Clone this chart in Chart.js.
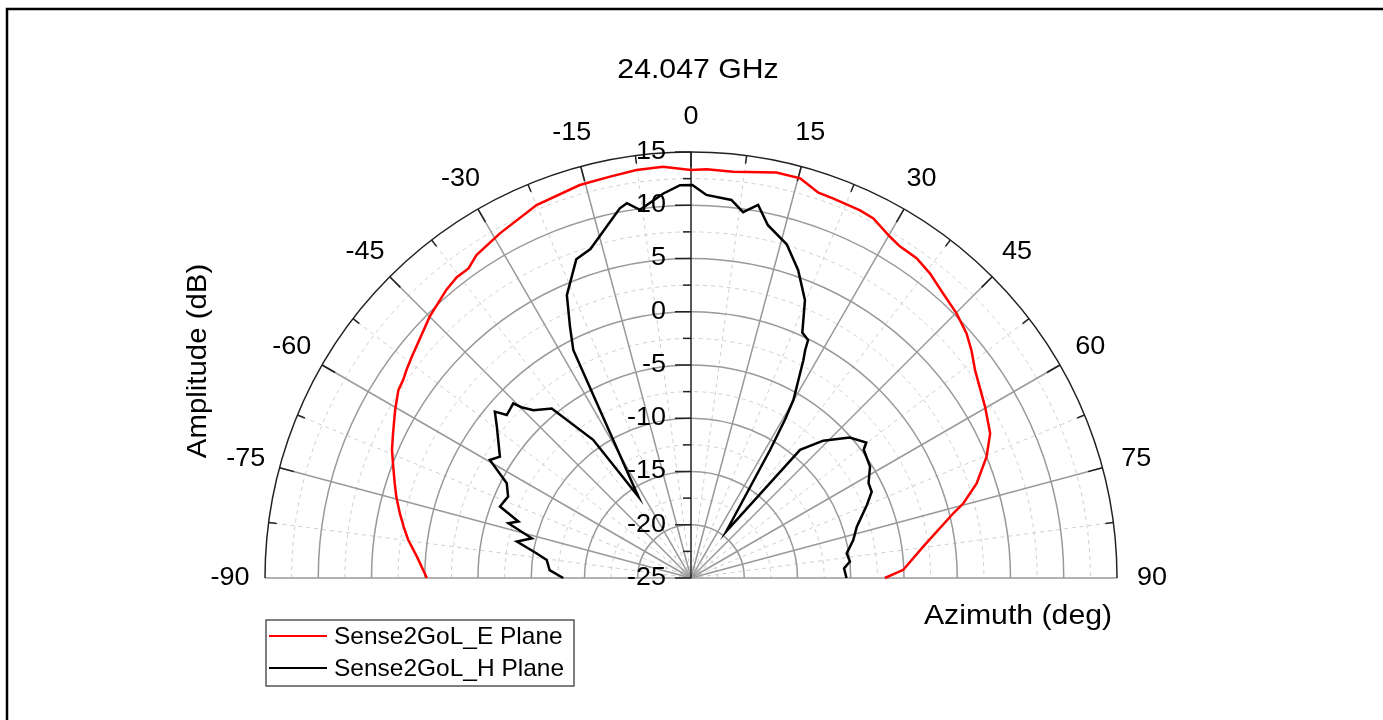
<!DOCTYPE html>
<html>
<head>
<meta charset="utf-8">
<title>24.047 GHz</title>
<script src="https://cdn.jsdelivr.net/npm/chart.js@4.4.1/dist/chart.umd.min.js"></script>
<style>
    html, body { margin: 0; padding: 0; background: #fff; }
    canvas { display: block; }
</style>
</head>
<body>
<canvas id="polarChart" width="1383" height="720"></canvas>
<script>
const titleText = '24.047 GHz';
const radialTitle = 'Amplitude (dB)';
const angleTitle = 'Azimuth (deg)';
const radialTicks = [-25, -20, -15, -10, -5, 0, 5, 10, 15];
const angleTicks = [-90, -75, -60, -45, -30, -15, 0, 15, 30, 45, 60, 75, 90];
const rMin = -25;
const rMax = 15;

// E plane (red)
const eAngles = [-90, -85.6, -82.3, -79.9, -77.5, -74.6, -72.3, -69.5, -66.8, -64.1,
    -60.4, -57.3, -55.5, -53.8, -51.6, -45, -40.3, -37.9, -35.7, -33.6,
    -29, -22.5, -15.8, -11.4, -7.6, -3.9, 0, 2.2, 5.9, 11.9,
    15.3, 18.3, 20.5, 24.7, 26.9, 30.2, 32.2, 35.2, 38.1, 41.5,
    45.1, 48.4, 51, 53.8, 59.8, 64.2, 67.7, 71.7, 74.7, 76.1,
    82.3, 87.8, 90];
const eValues = [-0.2, 0.8, 1.8, 2.4, 3.0, 3.7, 4.2, 4.85, 5.55, 6.1,
    6.95, 7.65, 7.8, 8.1, 8.45, 9.7, 10.5, 10.8, 10.8, 11.4,
    12.0, 12.9, 13.35, 13.45, 13.65, 13.7, 13.3, 13.4, 13.35, 13.9,
    13.9, 13.1, 13.05, 13.0, 12.85, 12.1, 11.8, 11.75, 11.35, 10.7,
    10.2, 9.6, 8.9, 8.05, 6.95, 6.2, 5.0, 3.25, 1.5, 0.4,
    -3.0, -5.05, -6.8];

// H plane (black)
const hAngles = [-90, -86.8, -82.9, -80.9, -78.2, -76.0, -73.3, -71.9, -69.5, -66.0,
    -62.8, -59.6, -57.6, -52.1, -49.7, -48.5, -45.5, -44.8, -43.2, -39.4,
    -35.3, -32.9, -27.3, -25.7, -23.7, -19.8, -17.0, -10.9, -9.7, -7.9,
    -4.1, -1.6, 0.2, 2.3, 6.1, 8.1, 10.2, 12.3, 16.0, 19.2,
    22.3, 24.4, 26.2, 26.6, 27.3, 29.9, 30.7, 31.7, 37.1, 40.4,
    43.9, 48.5, 52.3, 53.4, 58.1, 61.9, 64.5, 67.4, 72.8, 76.8,
    81.0, 84.1, 86.4, 90];
const hValues = [-13.0, -11.7, -11.35, -10.3, -8.3, -9.6, -7.1, -7.95, -5.85, -6.2,
    -5.55, -3.1, -3.75, -1.9, -0.85, -1.9, -1.6, -2.4, -3.4, -4.4,
    -9.1, -15.9, -0.9, 1.2, 4.0, 6.8, 7.3, 10.35, 10.7, 9.9,
    11.2, 11.9, 11.9, 11.0, 10.7, 9.7, 10.6, 8.9, 7.6, 5.6,
    3.2, 0.3, -0.1, -1.05, -2.0, -5.7, -7.7, -10.9, -19.5, -9.2,
    -7.1, -5.1, -4.2, -4.8, -5.2, -6.1, -6.2, -7.1, -8.7, -9.35,
    -10.2, -10.0, -10.6, -10.4];

const FONT = '"Liberation Sans", Arial, sans-serif';

// azimuth 0 points up, positive to the right
const toXY = (angles, values) => angles.map((a, i) => {
    const r = values[i] - rMin;
    const t = a * Math.PI / 180;
    return { x: r * Math.sin(t), y: r * Math.cos(t) };
});

const drawText = (ctx, text, x, y, size, align, stretch) => {
    ctx.save();
    ctx.translate(x, y);
    ctx.scale(stretch, 1);
    ctx.font = `${size}px ${FONT}`;
    ctx.fillStyle = '#000';
    ctx.textAlign = align;
    ctx.textBaseline = 'middle';
    ctx.fillText(text, 0, 0);
    ctx.restore();
};

const geometry = (chart) => {
    const { x, y } = chart.scales;
    const cx = x.getPixelForValue(0);
    const cy = y.getPixelForValue(0);
    const unit = x.getPixelForValue(1) - cx;
    return { cx, cy, unit, R: (rMax - rMin) * unit };
};

const spoke = (ctx, cx, cy, deg, r0, r1) => {
    const t = deg * Math.PI / 180;
    ctx.beginPath();
    ctx.moveTo(cx + r0 * Math.sin(t), cy - r0 * Math.cos(t));
    ctx.lineTo(cx + r1 * Math.sin(t), cy - r1 * Math.cos(t));
    ctx.stroke();
};

const polarGrid = {
    id: 'polarGrid',
    beforeDatasetsDraw(chart) {
        const ctx = chart.ctx;
        const { cx, cy, unit, R } = geometry(chart);
        ctx.save();

        // minor dashed rings and spokes
        ctx.strokeStyle = '#cfcfcf';
        ctx.lineWidth = 1;
        ctx.setLineDash([4, 4]);
        for (let v = rMin + 2.5; v < rMax; v += 5) {
            ctx.beginPath();
            ctx.arc(cx, cy, (v - rMin) * unit, Math.PI, 2 * Math.PI);
            ctx.stroke();
        }
        for (let a = -82.5; a < 90; a += 15) {
            spoke(ctx, cx, cy, a, 0, R);
        }
        ctx.setLineDash([]);

        // major rings and spokes
        ctx.strokeStyle = '#999';
        ctx.lineWidth = 1.5;
        radialTicks.slice(1, -1).forEach(v => {
            ctx.beginPath();
            ctx.arc(cx, cy, (v - rMin) * unit, Math.PI, 2 * Math.PI);
            ctx.stroke();
        });
        angleTicks.filter(a => a !== 0).forEach(a => spoke(ctx, cx, cy, a, 0, R));

        // outer ring
        ctx.strokeStyle = '#222';
        ctx.lineWidth = 1.5;
        ctx.beginPath();
        ctx.arc(cx, cy, R, Math.PI, 2 * Math.PI);
        ctx.stroke();

        // angular ticks
        for (let a = -82.5; a < 90; a += 7.5) {
            const major = Math.abs(a % 15) < 0.01;
            spoke(ctx, cx, cy, a, R - (major ? 15 : 8), R);
        }

        // radial axis with ticks to the left
        ctx.beginPath();
        ctx.moveTo(cx, cy);
        ctx.lineTo(cx, cy - R);
        ctx.stroke();
        for (let v = rMin; v <= rMax; v += 2.5) {
            const py = cy - (v - rMin) * unit;
            const len = (v - rMin) % 5 === 0 ? 16 : 8;
            ctx.beginPath();
            ctx.moveTo(cx - len, py);
            ctx.lineTo(cx, py);
            ctx.stroke();
        }
        ctx.restore();
    },
    afterDatasetsDraw(chart) {
        const ctx = chart.ctx;
        const { cx, cy, unit, R } = geometry(chart);

        radialTicks.forEach(v => {
            drawText(ctx, String(v), cx - 25, cy - (v - rMin) * unit, 25, 'right', 1.08);
        });
        angleTicks.forEach(a => {
            const t = a * Math.PI / 180;
            const rr = R + 35;
            drawText(ctx, String(a), cx + rr * Math.sin(t), cy - rr * Math.cos(t), 25, 'center', 1.08);
        });

        drawText(ctx, titleText, 698, 70, 28, 'center', 1.08);
        drawText(ctx, angleTitle, 1018, 616, 28, 'center', 1.08);

        ctx.save();
        ctx.translate(198, 361);
        ctx.rotate(-Math.PI / 2);
        drawText(ctx, radialTitle, 0, 0, 28, 'center', 1.05);
        ctx.restore();

        // legend
        ctx.save();
        ctx.strokeStyle = '#555';
        ctx.lineWidth = 1.5;
        ctx.strokeRect(266, 620, 308, 66);
        chart.data.datasets.forEach((ds, i) => {
            const ly = 636 + i * 32;
            ctx.strokeStyle = ds.borderColor;
            ctx.lineWidth = 2;
            ctx.beginPath();
            ctx.moveTo(269, ly);
            ctx.lineTo(327, ly);
            ctx.stroke();
            drawText(ctx, ds.label, 334, ly + 1, 24, 'left', 1.02);
        });

        // frame
        ctx.strokeStyle = '#000';
        ctx.lineWidth = 2.5;
        ctx.strokeRect(7, 9, 1400, 730);
        ctx.restore();
    }
};

new Chart(document.getElementById('polarChart'), {
    type: 'scatter',
    data: {
        datasets: [{
            label: 'Sense2GoL_E Plane',
            data: toXY(eAngles, eValues),
            showLine: true,
            borderColor: '#ff0000',
            borderWidth: 2.5,
            pointRadius: 0,
            fill: false,
            clip: false
        }, {
            label: 'Sense2GoL_H Plane',
            data: toXY(hAngles, hValues),
            showLine: true,
            borderColor: '#000000',
            borderWidth: 2.5,
            pointRadius: 0,
            fill: false,
            clip: false
        }]
    },
    options: {
        responsive: false,
        animation: false,
        devicePixelRatio: 1,
        layout: {
            padding: { left: 265, right: 266, top: 152, bottom: 142 }
        },
        scales: {
            x: { type: 'linear', min: -40, max: 40, display: false },
            y: { type: 'linear', min: 0, max: 40, display: false }
        },
        plugins: {
            legend: { display: false },
            title: { display: false },
            tooltip: { enabled: false }
        }
    },
    plugins: [polarGrid]
});
</script>
</body>
</html>
